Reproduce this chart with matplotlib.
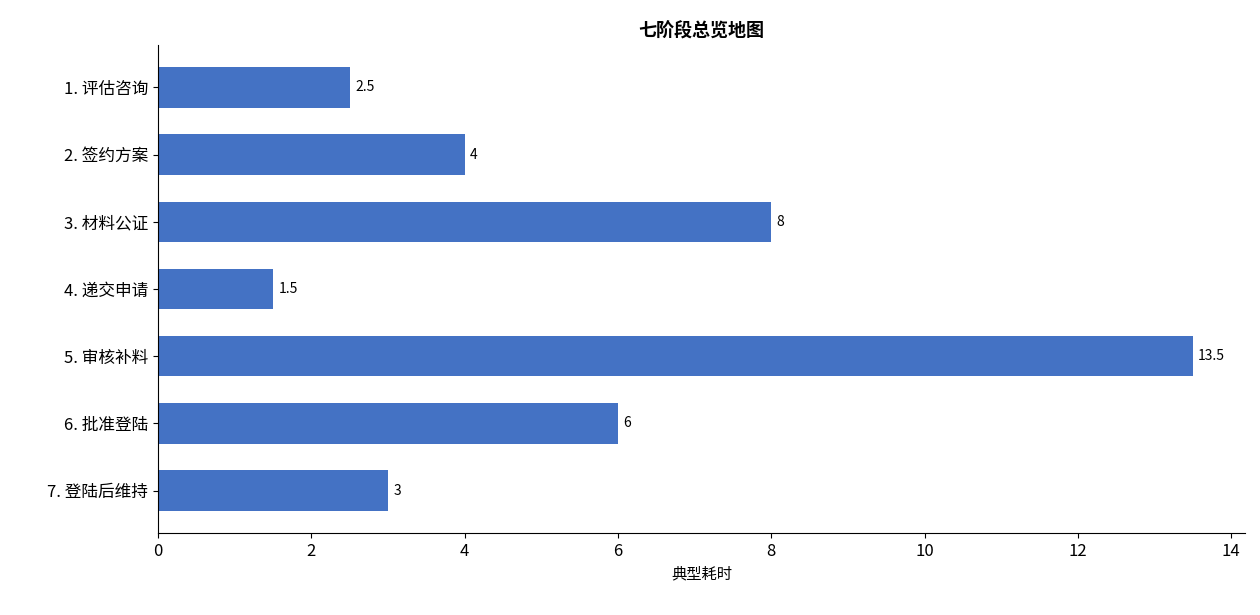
import matplotlib
matplotlib.use("Agg")
import matplotlib.pyplot as plt

plt.rcParams["font.family"] = ["Noto Sans CJK SC", "DejaVu Sans"]

stages = ["1. 评估咨询", "2. 签约方案", "3. 材料公证", "4. 递交申请",
          "5. 审核补料", "6. 批准登陆", "7. 登陆后维持"]
durations = [2.5, 4, 8, 1.5, 13.5, 6, 3]
labels = ["2.5", "4", "8", "1.5", "13.5", "6", "3"]

fig = plt.figure(figsize=(12.6, 6.15), dpi=100)
ax = fig.add_axes([158 / 1260, 1 - 533 / 615, (1245 - 158) / 1260, (533 - 45) / 615])

ypos = list(range(len(stages)))
bars = ax.barh(ypos, durations, height=0.6, color="#4472C4")
for b, lbl in zip(bars, labels):
    ax.text(b.get_width() + 0.07, b.get_y() + b.get_height() / 2, lbl,
            va="center", ha="left", fontsize=10)

ax.set_yticks(ypos)
ax.set_yticklabels(stages, fontsize=12)
ax.invert_yaxis()
ax.set_xlim(0, 14.18)
ax.set_xticks(range(0, 15, 2))
ax.tick_params(axis="x", labelsize=12)
ax.set_xlabel("典型耗时", fontsize=11)
ax.set_title("七阶段总览地图", fontsize=13, fontweight="bold", pad=6)
ax.spines["top"].set_visible(False)
ax.spines["right"].set_visible(False)

fig.savefig("out.png", dpi=100)
